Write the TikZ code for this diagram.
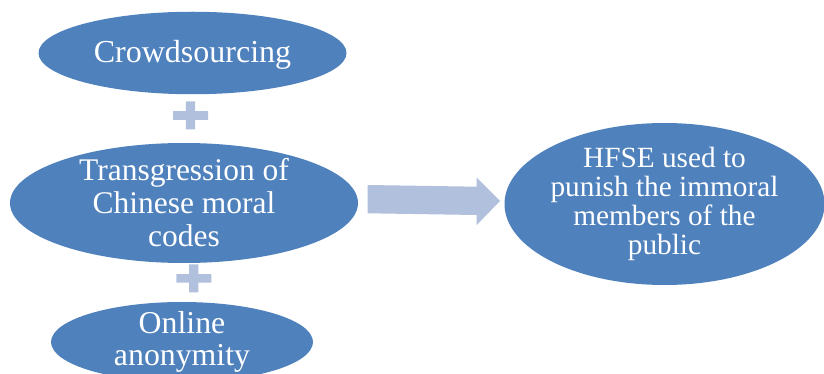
\documentclass[tikz,border=0pt]{standalone}
\usepackage{fontspec}
\setmainfont{Liberation Serif}
\newfontfamily\timesfont{Liberation Serif}
\usetikzlibrary{shapes.geometric}
\definecolor{ellblue}{RGB}{79,129,189}
\definecolor{lightblue}{RGB}{177,193,221}
\tikzset{
  ell/.style={ellipse, fill=ellblue, draw=none, inner sep=0pt},
  txt/.style={text=white, align=center, inner sep=0pt},
  plussign/.pic={
    \fill[lightblue] (-17.5,-4.3) -- (-4.6,-4.3) -- (-4.6,-14) -- (4.6,-14) -- (4.6,-4.3) -- (17.5,-4.3)
      -- (17.5,4.3) -- (4.6,4.3) -- (4.6,14) -- (-4.6,14) -- (-4.6,4.3) -- (-17.5,4.3) -- cycle;
  }
}
\begin{document}
\begin{tikzpicture}[x=1pt,y=-1pt]
\useasboundingbox (0,0) rectangle (824,374);
\clip (0,0) rectangle (824,374);
% ellipses
\node[ell, minimum width=308pt, minimum height=82.5pt] (e1) at (192.5,53) {};
\node[ell, minimum width=348pt, minimum height=120pt] (e2) at (184,203) {};
\node[ell, minimum width=262pt, minimum height=80pt] (e3) at (182,342) {};
\node[ell, minimum width=320pt, minimum height=162pt] (e4) at (664.5,204) {};
% texts
\node[txt, font=\timesfont\fontsize{32}{33}\selectfont] (t1) at ([yshift=-1.5pt]e1.center) {Crowdsourcing};
\node[txt, font=\timesfont\fontsize{31.5}{33}\selectfont] (t2) at ([yshift=0pt]e2.center) {Transgression of\\Chinese moral\\codes};
\node[txt, font=\timesfont\fontsize{31.8}{32}\selectfont] (t3) at ([yshift=0pt]e3.center) {Online\\anonymity};
\node[txt, font=\timesfont\fontsize{29.3}{29}\selectfont] (t4) at ([yshift=0pt]e4.center) {HFSE used to\\punish the immoral\\members of the\\public};
% plus signs
\pic at (190.5,115.5) {plussign};
\pic at (193.8,278.3) {plussign};
% block arrow
\fill[lightblue] (367.7,185) -- (476.7,186.7) -- (476.7,177.7) -- (500,201) -- (476.7,225) -- (476.7,215) -- (367.7,213.3) -- cycle;
\end{tikzpicture}
\end{document}
